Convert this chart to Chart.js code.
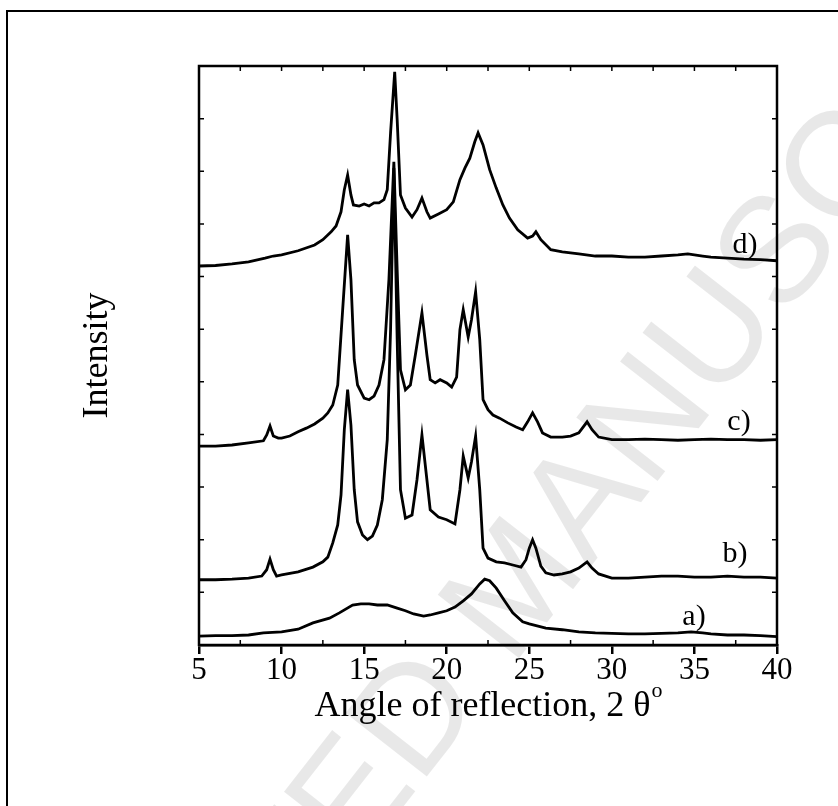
<!DOCTYPE html>
<html><head><meta charset="utf-8">
<script src="https://cdn.jsdelivr.net/npm/chart.js@4.4.0/dist/chart.umd.min.js"></script>
<style>html,body{margin:0;padding:0;background:#fff;}#wrap{width:838px;height:806px;position:relative;}</style>
</head><body><div id="wrap"><canvas id="c" width="838" height="806"></canvas></div>
<script>
// ---- data (2θ in degrees, intensity in arbitrary offset units) ----
const angleA = [5,6,7,8,8.9,10,11,11.9,12.9,13.5,14.3,14.8,15.3,15.8,16.4,17,17.5,18,18.6,19,19.5,20,20.5,21,21.5,22,22.3,22.6,23,23.5,24,24.6,25,26,27,28,29,30,31,32,33,34,34.8,35.5,36,37,38,39,40];
const intensityA = [17,18,18,19,23,25,30,42,51,61,76,78,78,76,76,70,65,59,55,57,61,65,72,84,97,116,125,122,108,84,61,44,40,32,29,25,23,22,21,21,22,23,25,23,21,19,19,18,16];

const angleB = [5,6,7,8,8.8,9.1,9.3,9.5,9.7,10,11,11.9,12.5,12.8,13.1,13.4,13.6,13.8,14.0,14.2,14.4,14.6,14.9,15.2,15.5,15.8,16.1,16.4,16.6,16.8,17.0,17.2,17.5,17.9,18.2,18.5,18.8,19.0,19.5,20.0,20.5,20.8,21.0,21.3,21.5,21.75,22.0,22.2,22.5,23,23.5,24,24.5,24.8,25.0,25.2,25.4,25.7,26.0,26.5,27,27.5,28,28.5,28.8,29.2,30,31,32,33,34,35,36,37,38,39,40];
const intensityB = [124,124,125,127,131,143,163,143,131,133,139,148,158,167,194,228,285,409,485,418,295,234,209,200,207,228,276,390,599,906,580,295,241,247,314,399,314,257,243,238,230,295,359,317,348,397,295,184,165,158,156,152,148,162,184,200,184,150,137,133,135,139,146,158,146,135,127,127,129,131,131,129,129,131,129,129,127];

const angleC = [5,6,7,8,8.9,9.1,9.3,9.5,9.8,10,10.5,11,11.5,12,12.5,12.8,13.1,13.4,13.7,14.0,14.2,14.4,14.6,15.0,15.3,15.6,15.9,16.2,16.5,16.8,17.0,17.2,17.5,17.8,18.1,18.5,18.8,19.0,19.3,19.6,20.0,20.3,20.6,20.8,21.0,21.3,21.5,21.75,22.0,22.2,22.5,22.8,23.2,23.7,24.2,24.6,24.9,25.2,25.5,25.8,26.3,27,27.5,28.0,28.5,28.8,29.2,30,31,32,33,34,35,36,37,38,39,40];
const intensityC = [378,378,380,384,388,399,416,397,393,393,397,405,412,420,431,441,456,494,637,779,694,542,494,469,466,473,494,542,694,918,713,523,485,494,551,631,551,504,498,504,498,490,509,599,637,585,618,671,580,466,447,437,431,422,414,409,424,441,424,403,395,395,397,403,424,409,395,390,390,391,390,389,390,391,390,390,389,390];

const angleD = [5,6,7,8,9,9.5,10,11,12,12.5,13,13.3,13.6,13.8,14.0,14.2,14.35,14.7,15.0,15.3,15.6,15.9,16.2,16.4,16.6,16.85,17.0,17.2,17.5,17.9,18.2,18.5,18.8,19.0,19.5,20.0,20.4,20.8,21.1,21.4,21.7,21.9,22.2,22.6,23.0,23.4,23.8,24.3,24.9,25.2,25.4,25.7,26.3,27,28,29,30,31,32,33,34,34.6,35.5,36,37,38,39,40];
const intensityD = [720,721,724,728,735,739,741,749,760,770,785,796,823,865,893,855,836,834,838,834,840,840,846,865,973,1089,998,855,830,813,827,849,823,811,819,827,842,884,906,925,956,973,950,903,868,836,811,789,773,777,785,770,751,747,743,739,739,737,737,739,741,743,739,737,735,733,732,730];

const xTickValues = [5,10,15,20,25,30,35,40];
const sampleLabels = ['a)','b)','c)','d)'];
const xTitle = 'Angle of reflection, 2 \u03B8';
const xTitleSup = 'o';
const yTitle = 'Intensity';
const watermark = 'ACCEPTED MANUSCRIPT';

// ---- layout / style (not data) ----
const SERIF = '"Liberation Serif","Times New Roman",serif';
const labelPos = [[694,617],[735,554],[739,422],[745,245]];

const toPts = (xs, ys) => xs.map((x, i) => ({x, y: ys[i]}));
const mk = (xs, ys) => ({data: toPts(xs, ys), borderColor: '#000', borderWidth: 2.8, pointRadius: 0, tension: 0, fill: false});

const decor = {
  id: 'decor',
  beforeDraw(chart) {
    const ctx = chart.ctx;
    ctx.save();
    ctx.fillStyle = '#fff';
    ctx.fillRect(0, 0, chart.width, chart.height);
    // watermark
    ctx.translate(520, 590);
    ctx.rotate(-52 * Math.PI / 180);
    ctx.font = '150px "Liberation Sans",Arial,sans-serif';
    ctx.fillStyle = 'rgba(0,0,0,0.09)';
    ctx.textAlign = 'center';
    ctx.textBaseline = 'middle';
    ctx.fillText(watermark, 0, 0);
    ctx.restore();
    // page frame
    ctx.save();
    ctx.strokeStyle = '#000';
    ctx.lineWidth = 2;
    ctx.beginPath();
    ctx.moveTo(7, chart.height + 5);
    ctx.lineTo(7, 11);
    ctx.lineTo(chart.width + 5, 11);
    ctx.stroke();
    ctx.restore();
  },
  afterDraw(chart) {
    const {ctx, chartArea: a, scales: {x, y}} = chart;
    ctx.save();
    ctx.strokeStyle = '#000';
    ctx.lineWidth = 2.5;
    ctx.strokeRect(a.left, a.top, a.right - a.left, a.bottom - a.top);
    ctx.lineWidth = 1.5;
    ctx.beginPath();
    for (let v = 5; v <= 40; v += 2.5) {
      const px = x.getPixelForValue(v);
      ctx.moveTo(px, a.top); ctx.lineTo(px, a.top + 5);
      if (v % 5 !== 0) { ctx.moveTo(px, a.bottom); ctx.lineTo(px, a.bottom - 5); }
    }
    for (let v = 100; v < 1100; v += 100) {
      const py = y.getPixelForValue(v);
      ctx.moveTo(a.left, py); ctx.lineTo(a.left + 5, py);
      ctx.moveTo(a.right, py); ctx.lineTo(a.right - 5, py);
    }
    ctx.stroke();
    // sample labels
    ctx.fillStyle = '#000';
    ctx.font = '30px ' + SERIF;
    ctx.textAlign = 'center';
    ctx.textBaseline = 'middle';
    sampleLabels.forEach((t, i) => ctx.fillText(t, labelPos[i][0], labelPos[i][1]));
    // axis titles
    const F = 36;
    ctx.font = F + 'px ' + SERIF;
    ctx.textBaseline = 'alphabetic';
    const cx = (a.left + a.right) / 2;
    const w1 = ctx.measureText(xTitle).width;
    ctx.font = '22px ' + SERIF;
    const w2 = ctx.measureText(xTitleSup).width;
    const start = cx - (w1 + w2) / 2;
    ctx.textAlign = 'left';
    ctx.font = F + 'px ' + SERIF;
    ctx.fillText(xTitle, start, 716);
    ctx.font = '22px ' + SERIF;
    ctx.fillText(xTitleSup, start + w1 + 1, 697);
    ctx.save();
    ctx.translate(107, (a.top + a.bottom) / 2);
    ctx.rotate(-Math.PI / 2);
    ctx.textAlign = 'center';
    ctx.font = F + 'px ' + SERIF;
    ctx.fillText(yTitle, 0, 0);
    ctx.restore();
    ctx.restore();
  }
};

new Chart(document.getElementById('c'), {
  type: 'line',
  data: {datasets: [mk(angleA, intensityA), mk(angleB, intensityB), mk(angleC, intensityC), mk(angleD, intensityD)]},
  options: {
    responsive: false, animation: false, devicePixelRatio: 1,
    layout: {padding: {top: 66, right: 61, left: 0, bottom: 0}},
    plugins: {legend: {display: false}, tooltip: {enabled: false}},
    scales: {
      x: {
        type: 'linear', min: 5, max: 40,
        afterBuildTicks: s => { s.ticks = xTickValues.map(v => ({value: v})); },
        ticks: {font: {family: SERIF, size: 31}, color: '#000', padding: -2, maxRotation: 0},
        grid: {drawOnChartArea: false, tickLength: 9, color: '#000', lineWidth: 2.5},
        border: {display: true, color: '#000', width: 2.5},
        afterFit: s => { s.height = 161; }
      },
      y: {
        type: 'linear', min: 0, max: 1100,
        ticks: {display: false},
        grid: {display: false},
        border: {display: false},
        afterFit: s => { s.width = 199; }
      }
    }
  },
  plugins: [decor]
});
</script>
</body></html>
